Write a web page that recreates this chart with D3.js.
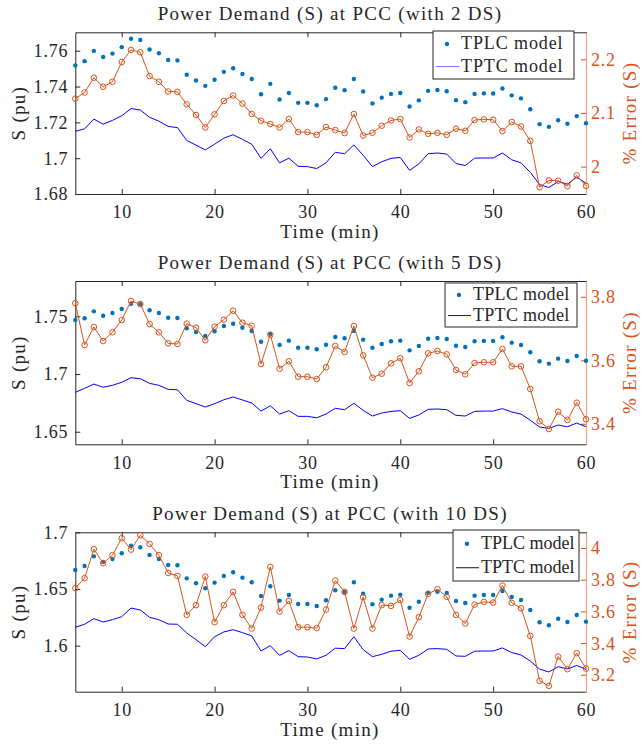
<!DOCTYPE html>
<html lang="en">
<head>
<meta charset="utf-8">
<title>Power Demand at PCC</title>
<script src="https://cdn.jsdelivr.net/npm/d3@7"></script>
<style>
  body { margin: 0; background: #fff; }
  text { font-family: "Liberation Serif", "Times New Roman", serif; fill: #262626; }
  .axis path, .axis line { stroke: #262626; stroke-width: 1px; }
  .axis text { font-size: 18px; letter-spacing: 0.8px; }
  .raxis line { stroke: #D95319; }
  .raxis path { stroke: #E9A283; stroke-width: 1.2px; }
  .raxis text { fill: #D95319; }
  .title, .label { font-size: 19px; letter-spacing: 1.3px; }
  .legend-text { font-size: 18px; letter-spacing: 0.9px; }
</style>
</head>
<body>
<div id="chart"></div>
<script>

// time axis (min)
var minutes = [5, 6, 7, 8, 9, 10, 11, 12, 13, 14, 15, 16, 17, 18, 19, 20, 21, 22, 23, 24, 25, 26, 27, 28, 29, 30,
  31, 32, 33, 34, 35, 36, 37, 38, 39, 40, 41, 42, 43, 44, 45, 46, 47, 48, 49, 50, 51, 52, 53, 54, 55, 56, 57, 58, 59, 60];

// 2 DS
var tplc2 = [1.7518, 1.7542, 1.7599, 1.7565, 1.7584, 1.762, 1.7667, 1.766, 1.7607, 1.7586, 1.7548, 1.7546, 1.7466, 1.7434,
  1.7404, 1.7438, 1.7482, 1.7502, 1.747, 1.7442, 1.7357, 1.7415, 1.7328, 1.7364, 1.7309, 1.7309, 1.7296, 1.733, 1.7393,
  1.738, 1.7442, 1.7372, 1.7306, 1.7338, 1.7359, 1.7364, 1.7289, 1.7323, 1.7376, 1.7381, 1.7374, 1.7324, 1.7313, 1.7359,
  1.7362, 1.7361, 1.7389, 1.7351, 1.7334, 1.7273, 1.719, 1.7175, 1.7212, 1.7192, 1.7235, 1.7195];
var tptc2 = [1.715, 1.7164, 1.7218, 1.719, 1.7211, 1.7237, 1.7277, 1.7269, 1.7228, 1.7207, 1.7177, 1.7171, 1.7099, 1.7073,
  1.7046, 1.7078, 1.7112, 1.7131, 1.7105, 1.7078, 1.6999, 1.7053, 1.6974, 1.7, 1.6955, 1.6953, 1.6942, 1.6974, 1.7033,
  1.7025, 1.7074, 1.7016, 1.6953, 1.698, 1.6999, 1.7004, 1.6932, 1.6968, 1.7025, 1.7029, 1.7023, 1.697, 1.6959, 1.7,
  1.7001, 1.7001, 1.7029, 1.6991, 1.6974, 1.6921, 1.6853, 1.6836, 1.687, 1.6855, 1.6894, 1.686];
var err2 = [2.1268, 2.1381, 2.1657, 2.1488, 2.1582, 2.1949, 2.2175, 2.2131, 2.1687, 2.1582, 2.14, 2.1394, 2.1161, 2.0962,
  2.073, 2.0974, 2.1225, 2.1325, 2.1175, 2.0981, 2.0856, 2.0794, 2.073, 2.0887, 2.0643, 2.0643, 2.0593, 2.0737, 2.0681,
  2.0625, 2.0981, 2.058, 2.063, 2.0762, 2.0861, 2.0887, 2.0543, 2.0693, 2.0612, 2.063, 2.0593, 2.0706, 2.0668, 2.0868,
  2.088, 2.0874, 2.0662, 2.0831, 2.0749, 2.048, 1.9617, 1.9743, 1.9737, 1.9636, 1.9837, 1.9642];

// 5 DS
var tplc5 = [1.7468, 1.7483, 1.7543, 1.7505, 1.7529, 1.7563, 1.7609, 1.7604, 1.7552, 1.7529, 1.7488, 1.7485, 1.7396, 1.7364,
  1.7329, 1.737, 1.7416, 1.7436, 1.7401, 1.7373, 1.728, 1.7347, 1.7251, 1.7289, 1.7228, 1.7228, 1.7214, 1.7254, 1.7321,
  1.731, 1.7373, 1.7298, 1.7228, 1.726, 1.7284, 1.7289, 1.7205, 1.7243, 1.7306, 1.7312, 1.7303, 1.7245, 1.7234, 1.7284,
  1.7287, 1.7287, 1.7318, 1.7272, 1.7251, 1.7188, 1.711, 1.709, 1.7133, 1.7113, 1.7156, 1.7115];
var tptc5 = [1.6841, 1.6876, 1.6913, 1.6885, 1.6902, 1.6928, 1.6968, 1.6959, 1.6919, 1.6902, 1.6867, 1.6864, 1.6772, 1.6743,
  1.6714, 1.6743, 1.6777, 1.6801, 1.6775, 1.6749, 1.6679, 1.6725, 1.6653, 1.6682, 1.6633, 1.6633, 1.6621, 1.6653, 1.6703,
  1.6691, 1.6746, 1.6685, 1.6636, 1.6662, 1.6676, 1.6682, 1.6616, 1.6645, 1.6694, 1.6697, 1.6691, 1.6642, 1.6636, 1.6676,
  1.6679, 1.6679, 1.67, 1.6671, 1.6653, 1.6599, 1.6541, 1.6529, 1.6558, 1.6543, 1.6575, 1.6543];
var err5 = [3.78, 3.6482, 3.7049, 3.6608, 3.6882, 3.7269, 3.7868, 3.7773, 3.7143, 3.6882, 3.6535, 3.6513, 3.7153, 3.7027,
  3.663, 3.7058, 3.7279, 3.7562, 3.7184, 3.709, 3.5883, 3.6806, 3.5735, 3.5969, 3.5483, 3.5483, 3.5411, 3.578, 3.645,
  3.6261, 3.708, 3.6157, 3.5452, 3.5578, 3.5906, 3.6063, 3.5285, 3.5654, 3.622, 3.6293, 3.6189, 3.5694, 3.5559, 3.5915,
  3.5937, 3.5937, 3.6356, 3.5811, 3.5811, 3.5096, 3.4079, 3.3836, 3.4381, 3.412, 3.4665, 3.4142];

// 10 DS
var tplc10 = [1.6668, 1.6703, 1.6788, 1.6738, 1.6765, 1.6815, 1.6882, 1.6868, 1.68, 1.6765, 1.6712, 1.6709, 1.6594, 1.655,
  1.6506, 1.6556, 1.6615, 1.6647, 1.66, 1.6559, 1.6438, 1.6524, 1.6397, 1.6447, 1.6368, 1.6368, 1.635, 1.64, 1.6489,
  1.6474, 1.6559, 1.6459, 1.6365, 1.6406, 1.6441, 1.645, 1.6335, 1.6388, 1.6467, 1.6476, 1.6465, 1.6394, 1.6377, 1.6441,
  1.6447, 1.6447, 1.6482, 1.6429, 1.6403, 1.6315, 1.6206, 1.618, 1.6238, 1.6209, 1.6271, 1.6212];
var tptc10 = [1.6162, 1.6189, 1.6238, 1.6209, 1.6229, 1.6256, 1.6332, 1.6315, 1.625, 1.6229, 1.6191, 1.6189, 1.6112, 1.6053,
  1.5991, 1.6079, 1.6121, 1.6141, 1.6115, 1.6086, 1.5953, 1.6, 1.5915, 1.5956, 1.5903, 1.59, 1.5883, 1.5915, 1.5978,
  1.5974, 1.6079, 1.5965, 1.5903, 1.5924, 1.5951, 1.5959, 1.588, 1.5915, 1.5971, 1.5974, 1.5968, 1.5909, 1.5906, 1.5951,
  1.5953, 1.5953, 1.598, 1.5939, 1.5918, 1.5865, 1.5794, 1.5768, 1.5815, 1.5794, 1.5826, 1.5791];
var err10 = [3.7464, 3.8095, 3.9924, 3.9041, 3.9546, 4.0618, 3.9899, 4.0808, 4.0259, 3.9546, 3.8429, 3.824, 3.5779, 3.6391,
  3.8196, 3.5319, 3.6391, 3.723, 3.5779, 3.4915, 3.624, 3.8808, 3.5987, 3.6662, 3.5003, 3.5003, 3.494, 3.6114, 3.7943,
  3.723, 3.4915, 3.6896, 3.4915, 3.6391, 3.6347, 3.6707, 3.441, 3.5634, 3.7104, 3.74, 3.6915, 3.5779, 3.523, 3.6429,
  3.66, 3.6555, 3.7628, 3.6536, 3.6202, 3.4454, 3.1615, 3.13, 3.3148, 3.2353, 3.3363, 3.2391];

// tick labels
var xTicks = [10, 20, 30, 40, 50, 60];
var sTicks2 = [1.68, 1.7, 1.72, 1.74, 1.76];
var sTicks5 = [1.65, 1.7, 1.75];
var sTicks10 = [1.6, 1.65, 1.7];
var eTicks2 = [2, 2.1, 2.2];
var eTicks5 = [3.4, 3.6, 3.8];
var eTicks10 = [3.2, 3.4, 3.6, 3.8, 4];

var titles = ["Power Demand (S) at PCC (with 2 DS)", "Power Demand (S) at PCC (with 5 DS)", "Power Demand (S) at PCC (with 10 DS)"];
var seriesNames = ["TPLC model", "TPTC model"];

// colours
var dotColor = "#0072BD",
    lineColor = "#0000FF",
    errColor = "#D95319";

// panel layout
var panels = [
  {title: titles[0], top: 32.3, bottom: 194, sDomain: [1.68, 1.7703], eDomain: [1.949, 2.2503],
   tplc: tplc2, tptc: tptc2, err: err2, sTicks: sTicks2, eTicks: eTicks2,
   leg: {x: 433, y: 31, w: 141, h: 48, lineColor: "#7878ff", spacing: 0.9}},
  {title: titles[1], top: 281, bottom: 444.3, sDomain: [1.6391, 1.7806], eDomain: [3.3354, 3.8498],
   tplc: tplc5, tptc: tptc5, err: err5, sTicks: sTicks5, eTicks: eTicks5,
   leg: {x: 445, y: 283, w: 132, h: 44, lineColor: "#0000FF", spacing: 0.3}},
  {title: titles[2], top: 532.3, bottom: 691.7, sDomain: [1.5594, 1.7], eDomain: [3.093, 4.099],
   tplc: tplc10, tptc: tptc10, err: err10, sTicks: sTicks10, eTicks: eTicks10,
   leg: {x: 453, y: 530, w: 126, h: 51, lineColor: "#111111", spacing: 0}}
];

var svg = d3.select("#chart")
  .append("svg")
  .attr("width", 643)
  .attr("height", 750);

var x = d3.scaleLinear()
  .domain([5, 60])
  .range([75.3, 586]);

var fmt = d3.format("");

panels.forEach(function(p) {

  var yS = d3.scaleLinear().domain(p.sDomain).range([p.bottom, p.top]);
  var yE = d3.scaleLinear().domain(p.eDomain).range([p.bottom, p.top]);

  var g = svg.append("g");

  // bottom axis
  g.append("g")
    .attr("class", "axis")
    .attr("transform", "translate(0," + p.bottom + ")")
    .call(d3.axisBottom(x).tickValues(xTicks).tickSizeInner(-5).tickSizeOuter(0).tickPadding(9).tickFormat(fmt));

  // top border
  g.append("g")
    .attr("class", "axis")
    .attr("transform", "translate(0," + p.top + ")")
    .call(d3.axisTop(x).tickValues(xTicks).tickSizeInner(-5).tickSizeOuter(0).tickFormat(""));

  // left axis
  g.append("g")
    .attr("class", "axis")
    .attr("transform", "translate(" + x(5) + ",0)")
    .call(d3.axisLeft(yS).tickValues(p.sTicks).tickSizeInner(-5).tickSizeOuter(0).tickPadding(7).tickFormat(fmt));

  // right axis
  g.append("g")
    .attr("class", "axis raxis")
    .attr("transform", "translate(" + x(60) + ",0)")
    .call(d3.axisRight(yE).tickValues(p.eTicks).tickSizeInner(-5).tickSizeOuter(0).tickPadding(5).tickFormat(fmt));

  g.selectAll(".axis text").attr("dy", null);
  g.selectAll(".axis .tick text")
    .each(function() {
      var t = d3.select(this);
      if (t.attr("y") && +t.attr("y") > 0) t.attr("dy", "0.85em");
      else t.attr("dy", "0.33em");
    });

  // tptc line
  g.append("path")
    .datum(p.tptc)
    .attr("fill", "none")
    .attr("stroke", lineColor)
    .attr("stroke-width", 1)
    .attr("d", d3.line().x(function(d, i) { return x(minutes[i]); }).y(function(d) { return yS(d); }));

  // tplc dots
  g.append("g")
    .selectAll("circle")
    .data(p.tplc)
    .enter()
    .append("circle")
    .attr("cx", function(d, i) { return x(minutes[i]); })
    .attr("cy", function(d) { return yS(d); })
    .attr("r", 2.2)
    .attr("fill", dotColor);

  // error line with circles
  g.append("path")
    .datum(p.err)
    .attr("fill", "none")
    .attr("stroke", errColor)
    .attr("stroke-width", 1)
    .attr("d", d3.line().x(function(d, i) { return x(minutes[i]); }).y(function(d) { return yE(d); }));

  g.append("g")
    .selectAll("circle")
    .data(p.err)
    .enter()
    .append("circle")
    .attr("cx", function(d, i) { return x(minutes[i]); })
    .attr("cy", function(d) { return yE(d); })
    .attr("r", 2.8)
    .attr("fill", "none")
    .attr("stroke", errColor)
    .attr("stroke-width", 1);

  // title
  g.append("text")
    .attr("class", "title")
    .attr("x", 330)
    .attr("y", p.top - 12)
    .attr("text-anchor", "middle")
    .text(p.title);

  // axis labels
  g.append("text")
    .attr("class", "label")
    .attr("x", 330)
    .attr("y", p.bottom + 44)
    .attr("text-anchor", "middle")
    .text("Time (min)");

  var mid = (p.top + p.bottom) / 2;
  g.append("text")
    .attr("class", "label")
    .attr("transform", "translate(25," + mid + ") rotate(-90)")
    .attr("text-anchor", "middle")
    .text("S (pu)");

  g.append("text")
    .attr("class", "label")
    .attr("transform", "translate(636," + mid + ") rotate(-90)")
    .attr("text-anchor", "middle")
    .style("fill", errColor)
    .text("% Error (S)");

  // legend
  var L = p.leg;
  var leg = g.append("g").attr("transform", "translate(" + L.x + "," + L.y + ")");
  leg.append("rect")
    .attr("width", L.w)
    .attr("height", L.h)
    .attr("fill", "#fff")
    .attr("stroke", "#262626")
    .attr("stroke-width", 1);
  leg.append("circle")
    .attr("cx", 14)
    .attr("cy", L.h * 0.27)
    .attr("r", 2.2)
    .attr("fill", dotColor);
  leg.append("line")
    .attr("x1", 3).attr("x2", 26)
    .attr("y1", L.h * 0.74).attr("y2", L.h * 0.74)
    .attr("stroke", L.lineColor)
    .attr("stroke-width", 1);
  leg.selectAll("text.legend-text")
    .data(seriesNames)
    .enter()
    .append("text")
    .attr("class", "legend-text")
    .attr("x", 28)
    .attr("y", function(d, i) { return L.h * (i === 0 ? 0.27 : 0.74) + 5.5; })
    .style("letter-spacing", L.spacing + "px")
    .text(function(d) { return d; });
});

</script>
</body>
</html>
